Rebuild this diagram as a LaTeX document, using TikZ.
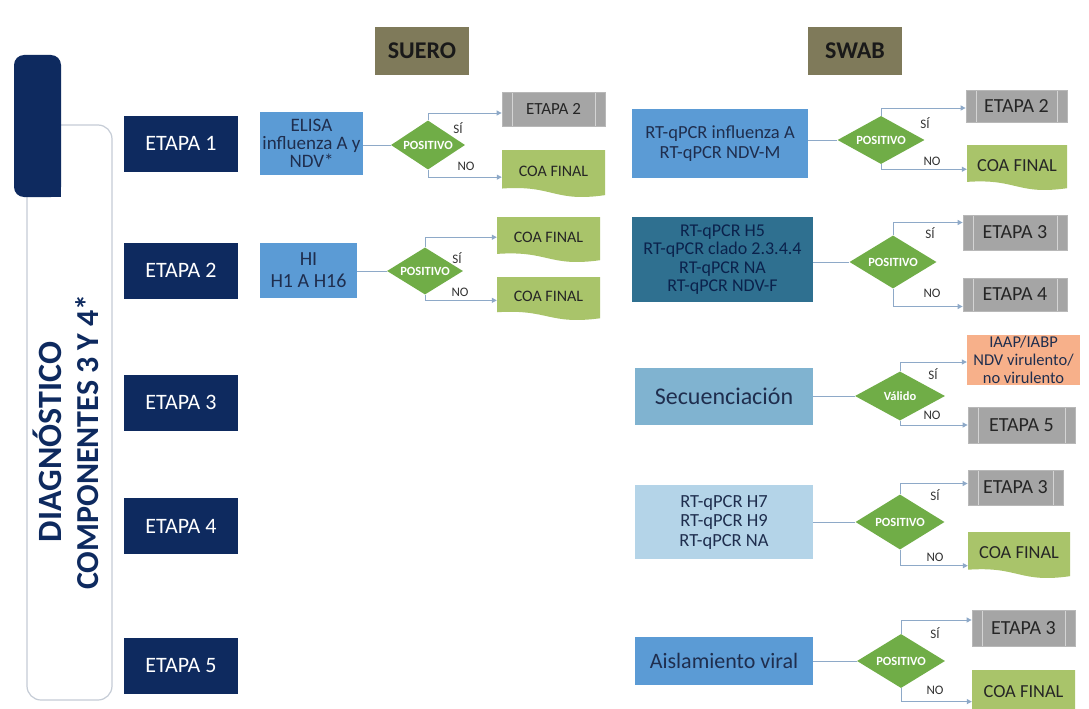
\documentclass[tikz,border=0pt]{standalone}
\usepackage{fontspec}
\setmainfont{Carlito}
\usetikzlibrary{shapes.geometric,arrows.meta,calc}
\definecolor{navy}{HTML}{0E2A5F}
\definecolor{olive}{HTML}{7F7A5A}
\definecolor{bluebox}{HTML}{5B9BD5}
\definecolor{tealbox}{HTML}{2F7090}
\definecolor{seqblue}{HTML}{80B3D0}
\definecolor{lightblue}{HTML}{B4D4E8}
\definecolor{dgreen}{HTML}{70AD47}
\definecolor{lgreen}{HTML}{A9C46A}
\definecolor{grayfill}{HTML}{A5A5A5}
\definecolor{grayedge}{HTML}{B8B8B8}
\definecolor{grayline}{HTML}{D4D4D4}
\definecolor{orangebox}{HTML}{F7B08A}
\definecolor{connc}{HTML}{8EA9C8}
\definecolor{outlinec}{HTML}{C5CCD6}
\definecolor{boxtext}{HTML}{1F2E4E}
\definecolor{darktext}{HTML}{262626}
\newcommand{\coabox}[6]{%
  \pgfmathsetmacro{\cbw}{#4-#2}\pgfmathsetmacro{\cbh}{#5-#3}%
  \pgfmathsetmacro{\cbx}{(#2+#4)/2}\pgfmathsetmacro{\cby}{#3+0.45*\cbh}%
  \pgfmathsetmacro{\cbr}{#3+0.96*\cbh}\pgfmathsetmacro{\cbl}{#3+0.82*\cbh}%
  \pgfmathsetmacro{\cbca}{#3+1.12*\cbh}\pgfmathsetmacro{\cbcb}{#3+0.74*\cbh}%
  \fill[lgreen] (#2,#3) -- (#4,#3) -- (#4,\cbr) .. controls (\cbx,\cbca) and (\cbx,\cbcb) .. (#2,\cbl) -- cycle;
  \node[coatext, minimum width=\cbw, font=\fontsize{#6}{#6}\selectfont] (#1) at (\cbx,\cby) {COA FINAL};%
}
\begin{document}
\begin{tikzpicture}[x=1pt,y=-1pt,
  etapa/.style={fill=navy, text=white, minimum width=114, minimum height=56, inner sep=0, font=\fontsize{22}{24}\selectfont},
  header/.style={fill=olive, text=black!90, minimum width=94, minimum height=48, inner sep=0, font=\bfseries\fontsize{24}{24}\selectfont},
  tbox/.style={inner sep=0, align=center, text=boxtext},
  dstyle/.style={diamond, fill=dgreen, inner sep=0, aspect=1.6, text=white, font=\bfseries\fontsize{12.5}{13}\selectfont},
  eg/.style={fill=grayfill, draw=grayedge, line width=0.8, text=darktext, inner sep=0,
    path picture={\draw[grayline, line width=1]
      ([xshift=10pt]path picture bounding box.north west) -- ([xshift=10pt]path picture bounding box.south west)
      ([xshift=-10pt]path picture bounding box.north east) -- ([xshift=-10pt]path picture bounding box.south east);}},
  coatext/.style={inner sep=0, text=darktext},
  lbl/.style={inner sep=0, text=black!80, font=\fontsize{13}{13}\selectfont},
  sidetext/.style={rotate=90, inner sep=0, text=navy},
  conn/.style={draw=connc, line width=1},
  arr/.style={conn, -{Triangle[length=5pt,width=5pt]}}
]
\useasboundingbox (0,0) rectangle (1089,709);
\clip (0,0) rectangle (1089,709);
\fill[white] (0,0) rectangle (1089,709);

% left frame
\draw[outlinec, line width=1.2, rounded corners=14] (61,125) -- (112,125) -- (112,700) -- (27,700) -- (27,197);
\fill[navy, rounded corners=10] (14,55) rectangle (61,197);
\fill[navy] (45,180) rectangle (61,197);
\node[sidetext, font=\bfseries\fontsize{34}{34}\selectfont] (diag) at (47,442) {DIAGNÓSTICO};
\node[sidetext, font=\bfseries\fontsize{32}{32}\selectfont] (comp) at (87,442) {COMPONENTES 3 Y 4*};

% stages
\node[etapa] (E1) at (181,143.5) {ETAPA 1};
\node[etapa] (E2) at (181,270.5) {ETAPA 2};
\node[etapa] (E3) at (181,402.5) {ETAPA 3};
\node[etapa] (E4) at (181,526) {ETAPA 4};
\node[etapa] (E5) at (181,665.5) {ETAPA 5};

% headers
\node[header] (suero) at (422,51) {SUERO};
\node[header] (swab) at (855,51) {SWAB};

% ---------- SUERO row 1
\node[tbox, fill=bluebox, minimum width=103, minimum height=63, font=\fontsize{19}{18}\selectfont] (elisa) at (311.5,143.5) {ELISA\\influenza A y\\NDV*};
\node[dstyle, minimum width=74, minimum height=49] (ds1) at (428,145) {POSITIVO};
\node[eg, minimum width=103, minimum height=34, font=\fontsize{17}{17}\selectfont] (es1) at (553.5,109) {ETAPA 2};
\coabox{coas1}{502}{150}{605}{197}{16}
\node[lbl] (sis1) at (458,128) {SÍ};
\node[lbl] (nos1) at (466,166) {NO};
\draw[conn] (elisa.east |- ds1.west) -- (ds1.west);
\draw[arr] (ds1.north) |- ([yshift=-4pt]es1.west);
\draw[arr] (ds1.south) |- ([yshift=-6pt]coas1.west);

% ---------- SUERO row 2
\node[tbox, fill=bluebox, minimum width=97, minimum height=55, font=\fontsize{20}{22}\selectfont] (hi) at (308.5,270.5) {HI\\H1 A H16};
\node[dstyle, minimum width=76, minimum height=47] (ds2) at (425,271) {POSITIVO};
\coabox{coas2a}{497}{217}{600}{262}{16}
\coabox{coas2b}{497}{277}{600}{320}{16}
\node[lbl] (sis2) at (457,258) {SÍ};
\node[lbl] (nos2) at (460,292) {NO};
\draw[conn] (hi.east |- ds2.west) -- (ds2.west);
\draw[arr] (ds2.north) |- (coas2a.west);
\draw[arr] (ds2.south) |- ([yshift=-4pt]coas2b.west);

% ---------- SWAB row 1
\node[tbox, fill=bluebox, minimum width=176, minimum height=69, font=\fontsize{18.5}{20}\selectfont] (r1) at (720,143.5) {RT-qPCR influenza A\\RT-qPCR NDV-M};
\node[dstyle, minimum width=87, minimum height=48] (dw1) at (881,140) {POSITIVO};
\node[eg, minimum width=101, minimum height=32, font=\fontsize{20}{20}\selectfont] (ew1) at (1016.5,106) {ETAPA 2};
\coabox{coaw1}{967}{145}{1067}{190}{18.4}
\node[lbl] (siw1) at (925,123) {SÍ};
\node[lbl] (now1) at (932,161) {NO};
\draw[conn] (r1.east |- dw1.west) -- (dw1.west);
\draw[arr] (dw1.north) |- ([yshift=-2pt]ew1.west);
\draw[arr] (dw1.south) |- ([yshift=-4pt]coaw1.west);

% ---------- SWAB row 2
\node[tbox, fill=tealbox, text=navy!80!black, minimum width=181, minimum height=85, font=\fontsize{18}{18.5}\selectfont] (r2) at (722.5,259.5) {RT-qPCR H5\\RT-qPCR clado 2.3.4.4\\RT-qPCR NA\\RT-qPCR NDV-F};
\node[dstyle, minimum width=87, minimum height=53] (dw2) at (893,262) {POSITIVO};
\node[eg, minimum width=104, minimum height=35, font=\fontsize{20}{20}\selectfont] (ew2) at (1015,232.5) {ETAPA 3};
\node[eg, minimum width=104, minimum height=33, font=\fontsize{20}{20}\selectfont] (ew2b) at (1015,294.5) {ETAPA 4};
\node[lbl] (siw2) at (930,233) {SÍ};
\node[lbl] (now2) at (932,293) {NO};
\draw[conn] (r2.east |- dw2.west) -- (dw2.west);
\draw[arr] (dw2.north) |- ([yshift=10pt]ew2.west);
\draw[arr] (dw2.south) |- ([yshift=-12pt]ew2b.west);

% ---------- SWAB row 3
\node[tbox, fill=seqblue, minimum width=178, minimum height=57, font=\fontsize{24}{24}\selectfont] (r3) at (724,396.5) {Secuenciación};
\node[dstyle, minimum width=90, minimum height=49] (dw3) at (900,396) {Válido};
\node[tbox, fill=orangebox, minimum width=113, minimum height=50, font=\fontsize{16.5}{18}\selectfont] (ow3) at (1023.5,360) {IAAP/IABP\\NDV virulento/\\no virulento};
\node[eg, minimum width=107, minimum height=36, font=\fontsize{20}{20}\selectfont] (ew3) at (1021.5,425) {ETAPA 5};
\node[lbl] (siw3) at (933,374) {SÍ};
\node[lbl] (now3) at (932,415) {NO};
\draw[conn] (r3.east |- dw3.west) -- (dw3.west);
\draw[arr] (dw3.north) |- ([yshift=-2pt]ow3.west);
\draw[arr] (dw3.south) |- (ew3.west);

% ---------- SWAB row 4
\node[tbox, fill=lightblue, minimum width=178, minimum height=74, font=\fontsize{18.5}{19.5}\selectfont] (r4) at (724,522) {RT-qPCR H7\\RT-qPCR H9\\RT-qPCR NA};
\node[dstyle, minimum width=89, minimum height=55] (dw4) at (900,522) {POSITIVO};
\node[eg, minimum width=95, minimum height=35, font=\fontsize{20}{20}\selectfont] (ew4) at (1015.5,487.5) {ETAPA 3};
\coabox{coaw4}{968}{532}{1070}{578}{18.4}
\node[lbl] (siw4) at (935,495) {SÍ};
\node[lbl] (now4) at (935,557) {NO};
\draw[conn] (r4.east |- dw4.west) -- (dw4.west);
\draw[arr] (dw4.north) |- ([yshift=4pt]ew4.west);
\draw[arr] (dw4.south) |- ([yshift=-13pt]coaw4.west);

% ---------- SWAB row 5
\node[tbox, fill=bluebox, minimum width=178, minimum height=48, font=\fontsize{22}{22}\selectfont] (r5) at (724,661) {Aislamiento viral};
\node[dstyle, minimum width=88, minimum height=54] (dw5) at (901,661) {POSITIVO};
\node[eg, minimum width=103, minimum height=36, font=\fontsize{20}{20}\selectfont] (ew5) at (1023.5,628) {ETAPA 3};
\coabox{coaw5}{972}{670}{1075}{718}{18.4}
\node[lbl] (siw5) at (935,633) {SÍ};
\node[lbl] (now5) at (935,690) {NO};
\draw[conn] (r5.east |- dw5.west) -- (dw5.west);
\draw[arr] (dw5.north) |- ([yshift=8pt]ew5.west);
\draw[arr] (dw5.south) |- ([yshift=-10pt]coaw5.west);
\end{tikzpicture}
\end{document}
